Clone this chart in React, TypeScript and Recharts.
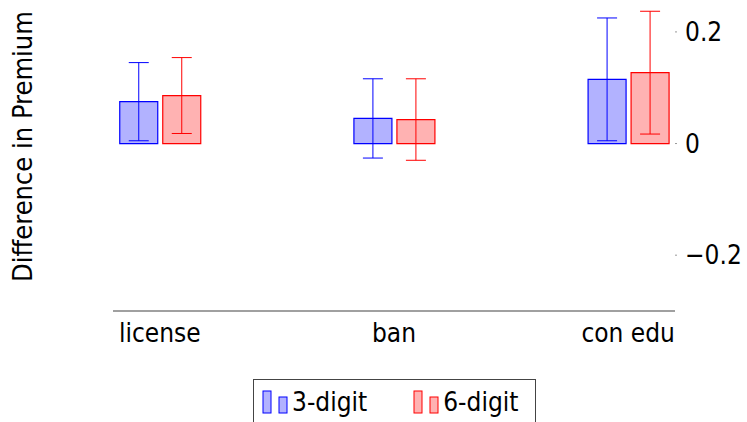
import React from "react";
import { BarChart, Bar, XAxis, YAxis, ErrorBar } from "recharts";

document.body.style.margin = "0";

const categories = ["license", "ban", "con edu"];
const positions = [0, 1, 2];
const threeDigit = [0.075, 0.045, 0.115];
const threeDigitErr = [0.07, 0.071, 0.11];
const sixDigit = [0.086, 0.043, 0.127];
const sixDigitErr = [0.068, 0.073, 0.11];
const yTicks = [-0.2, 0, 0.2];

const data = positions.map((x, i) => ({
  x,
  three: threeDigit[i],
  threeErr: threeDigitErr[i],
  six: sixDigit[i],
  sixErr: sixDigitErr[i],
}));

const FONT = "'DejaVu Sans Condensed', 'DejaVu Sans', sans-serif";
const BLUE = "#0000ff";
const RED = "#ff0000";

const formatY = (v: number) => {
  if (v === 0) return "0";
  return v < 0 ? `\u2212${Math.abs(v)}` : `${v}`;
};

function LegendIcon({ color, fill }: { color: string; fill: string }) {
  return (
    <svg width={26} height={26} style={{ marginRight: 4 }}>
      <rect x={1} y={2} width={8} height={22} fill={fill} stroke={color} strokeWidth={1} />
      <rect x={17} y={8} width={8} height={16} fill={fill} stroke={color} strokeWidth={1} />
    </svg>
  );
}

// rotated y title, centred a little above the plot middle like the original
const yTitle = (props: any) => {
  const vb = props.viewBox || {};
  const cx = vb.x + 22;
  const cy = vb.y + vb.height / 2 - 11;
  return (
    <text
      x={cx}
      y={cy}
      transform={`rotate(-90, ${cx}, ${cy})`}
      textAnchor="middle"
      dominantBaseline="central"
      fill="#000"
      fontSize={27}
      fontFamily={FONT}
    >
      Difference in Premium
    </text>
  );
};

export default function App() {
  return (
    <div style={{ position: "relative", width: 747, height: 422, overflow: "hidden", background: "#fff" }}>
      <BarChart
        width={747}
        height={422}
        data={data}
        margin={{ top: 4, right: 0, left: 0, bottom: 71 }}
        barGap={5}
      >
        <XAxis
          dataKey="x"
          type="number"
          domain={[-0.2, 2.2]}
          ticks={positions}
          tickFormatter={(v: number) => categories[v] ?? ""}
          interval={0}
          height={40}
          tickLine={false}
          tickSize={0}
          tickMargin={13}
          axisLine={{ stroke: "#808080", strokeWidth: 1.3 }}
          tick={{ fill: "#000", fontSize: 26, fontFamily: FONT }}
        />
        <YAxis
          yAxisId="right"
          orientation="right"
          domain={[-0.3, 0.25]}
          ticks={yTicks}
          tickFormatter={formatY}
          width={72}
          axisLine={false}
          tickSize={2}
          tickMargin={8}
          tickLine={{ stroke: "#999" }}
          tick={{ fill: "#000", fontSize: 26, fontFamily: FONT, textAnchor: "start" }}
        />
        <YAxis
          yAxisId="left"
          orientation="left"
          width={113}
          tick={false}
          axisLine={false}
          tickLine={false}
          label={yTitle}
        />
        <Bar
          yAxisId="right"
          dataKey="three"
          barSize={38}
          fill="rgba(0,0,255,0.3)"
          stroke={BLUE}
          strokeWidth={1.2}
          isAnimationActive={false}
        >
          <ErrorBar dataKey="threeErr" width={10} stroke={BLUE} strokeWidth={1} direction="y" isAnimationActive={false} />
        </Bar>
        <Bar
          yAxisId="right"
          dataKey="six"
          barSize={38}
          fill="rgba(255,0,0,0.3)"
          stroke={RED}
          strokeWidth={1.2}
          isAnimationActive={false}
        >
          <ErrorBar dataKey="sixErr" width={10} stroke={RED} strokeWidth={1} direction="y" isAnimationActive={false} />
        </Bar>
      </BarChart>
      <div
        style={{
          position: "absolute",
          left: 253,
          top: 379,
          width: 283,
          height: 46,
          boxSizing: "border-box",
          border: "1px solid #444",
          display: "flex",
          alignItems: "center",
          paddingLeft: 8,
          fontFamily: FONT,
          fontSize: 26,
          color: "#000",
        }}
      >
        <LegendIcon color={BLUE} fill="rgba(0,0,255,0.3)" />
        <span style={{ marginRight: 46 }}>3-digit</span>
        <LegendIcon color={RED} fill="rgba(255,0,0,0.3)" />
        <span>6-digit</span>
      </div>
    </div>
  );
}
